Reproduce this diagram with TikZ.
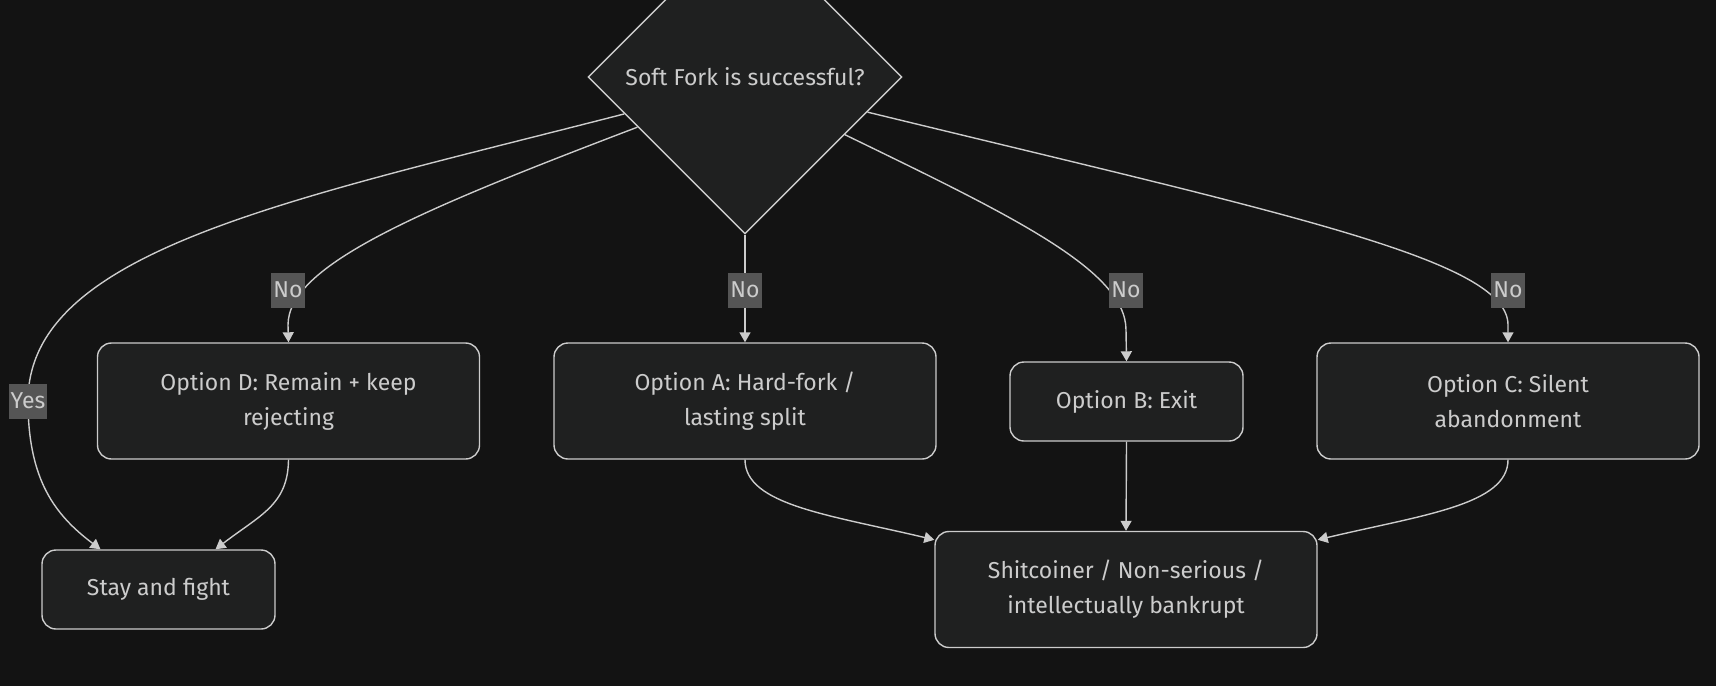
\documentclass[tikz,border=0pt]{standalone}
\usepackage{fontspec}
\setmainfont{Fira Sans}
\usetikzlibrary{shapes.geometric,arrows.meta,calc}
\definecolor{bgcol}{RGB}{19,19,19}
\definecolor{boxfill}{RGB}{31,32,32}
\definecolor{linecol}{RGB}{204,204,204}
\definecolor{lblfill}{RGB}{85,85,85}

\begin{document}
\begin{tikzpicture}
[x=0.5pt,y=-0.5pt,line width=0.7pt,
every node/.style={text=linecol,font=\fontsize{11.5}{17.5}\selectfont,align=center},
box/.style={draw=linecol,fill=boxfill,rounded corners=7pt},
wide/.style={box,minimum width=191pt,minimum height=58pt},
narrow/.style={box,minimum width=116.5pt,minimum height=39.5pt},
decision/.style={diamond,draw=linecol,fill=boxfill,minimum width=157pt,minimum height=157pt,inner sep=0pt},
lbl/.style={fill=lblfill,inner xsep=1pt,inner ysep=0pt,minimum height=17.5pt},
arr/.style={draw=linecol,-{Triangle[length=5pt,width=5.5pt]}}]
\useasboundingbox (0,0) rectangle (1716,686);
\fill[bgcol] (0,0) rectangle (1716,686);
\node[decision] (q) at (745,77) {Soft Fork is successful?};
\node[wide] (d) at (288.5,401) {Option D: Remain + keep\\rejecting};
\node[wide] (a) at (745,401) {Option A: Hard-fork /\\lasting split};
\node[narrow] (b) at (1126.5,401.5) {Option B: Exit};
\node[wide] (c) at (1508,401) {Option C: Silent\\abandonment};
\node[narrow] (stay) at (158.5,589.5) {Stay and fight};
\node[wide] (s) at (1126,589.5) {Shitcoiner / Non-serious /\\intellectually bankrupt};
\draw[arr] (q.197) .. controls (290,200) and (28,250) .. (28,401)
  .. controls (28,480) and (55,515) .. ($(stay.north)+(-58,0)$);
\draw[arr] (q.205) .. controls (420,210) and (288,265) .. (288,325) -- (d.north);
\draw[arr] (q.south) -- (a.north);
\draw[arr] (q.330) .. controls (1010,215) and (1126,270) .. (1126,330) -- (b.north);
\draw[arr] (q.344) .. controls (1290,215) and (1508,260) .. (1508,325) -- (c.north);
\draw[arr] (d.south) .. controls (288,505) and (260,515) .. ($(stay.north)+(57,0)$);
\draw[arr] (a.south) .. controls (745,505) and (830,515) .. ($(s.north west)+(0,9)$);
\draw[arr] (b.south) -- (s.north);
\draw[arr] (c.south) .. controls (1508,505) and (1422,515) .. ($(s.north east)+(0,9)$);
\node[lbl] (yes) at (28,401) {Yes};
\foreach \name/\x in {noD/288,noA/745,noB/1126,noC/1508}
  \node[lbl] (\name) at (\x,290) {No};
\end{tikzpicture}
\end{document}
